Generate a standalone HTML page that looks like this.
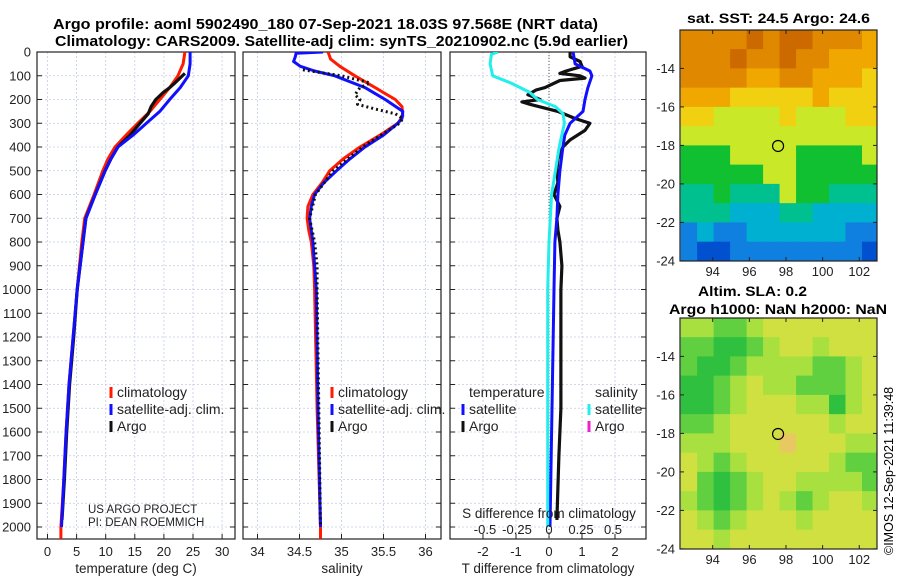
<!DOCTYPE html>
<html><head><meta charset="utf-8"><style>
body{margin:0;background:#fff}
svg{display:block;font-family:"Liberation Sans","DejaVu Sans",sans-serif}
</style></head><body>
<svg id="fig" width="900" height="580" viewBox="0 0 900 580" xmlns="http://www.w3.org/2000/svg">
<defs>
<clipPath id="c1"><rect x="37" y="52" width="198" height="487"/></clipPath>
<clipPath id="c2"><rect x="243" y="52" width="198" height="487"/></clipPath>
<clipPath id="c3"><rect x="450" y="52" width="196" height="487"/></clipPath>
<clipPath id="m1"><rect x="680" y="30" width="197" height="231"/></clipPath>
<clipPath id="m2"><rect x="680" y="318" width="197" height="231"/></clipPath>
</defs>
<text x="53" y="29" textLength="545" lengthAdjust="spacingAndGlyphs" font-size="14.5" font-weight="bold">Argo profile: aoml 5902490_180 07-Sep-2021 18.03S 97.568E (NRT data)</text>
<text x="55" y="46" textLength="573" lengthAdjust="spacingAndGlyphs" font-size="14.5" font-weight="bold">Climatology: CARS2009. Satellite-adj clim: synTS_20210902.nc (5.9d earlier)</text>
<text x="687" y="23" textLength="183" lengthAdjust="spacingAndGlyphs" font-size="14" font-weight="bold">sat. SST: 24.5 Argo: 24.6</text>
<text x="698" y="296" textLength="109" lengthAdjust="spacingAndGlyphs" font-size="14" font-weight="bold">Altim. SLA: 0.2</text>
<text x="669" y="314" textLength="218" lengthAdjust="spacingAndGlyphs" font-size="14" font-weight="bold">Argo h1000: NaN h2000: NaN</text>
<text transform="translate(893,555) rotate(-90)" font-size="12.5">©IMOS 12-Sep-2021 11:39:48</text>
<g id="g"></g>
</svg>
<script>
// ---- profile data ----
const depthTicks=[0,100,200,300,400,500,600,700,800,900,1000,1100,1200,1300,1400,1500,1600,1700,1800,1900,2000];
const tempTicks=[0,5,10,15,20,25,30];
const salTicks=[34,34.5,35,35.5,36];
const salTickLabels=["34","34.5","35","35.5","36"];
const tdiffTicks=[-2,-1,0,1,2];
const sdiffTicks=[-0.5,-0.25,0,0.25,0.5];
const sdiffTickLabels=["-0.5","-0.25","0","0.25","0.5"];

const climTDepth=[0,50,100,150,200,250,300,350,400,450,500,600,700,800,1000,1200,1400,1600,1800,2000,2050];
const climT=[23.6,23.3,22.4,21,19.3,17.6,15.5,13.5,11.6,10.4,9.5,8,6.4,5.9,5.1,4.4,3.7,3.2,2.8,2.3,2.3];
const satTDepth=[0,50,100,150,200,250,300,350,400,450,500,600,700,800,1000,1200,1400,1600,1800,2000];
const satT=[24.5,24.5,24.2,22.8,21,19.3,17,14.7,12.1,10.9,9.9,8.2,6.6,6.1,5.1,4.4,3.7,3.2,2.8,2.4];
const argoTDepth=[90,130,150,170,200,230,260,300,350,400,450,500,600,700,800,1000,1200,1400,1600,1800,1970];
const argoT=[23.6,21.9,21,19.9,18.6,17.8,17.3,15.9,14.2,12.1,10.9,9.9,8.2,6.6,6.1,5.1,4.5,3.8,3.3,2.9,2.5];

const climSDepth=[0,30,60,100,150,200,230,270,300,350,400,450,500,550,600,650,700,750,800,900,1000,1500,2000,2050];
const climS=[34.84,34.87,34.98,35.16,35.4,35.64,35.72,35.73,35.67,35.46,35.22,35.02,34.86,34.77,34.66,34.6,34.59,34.61,34.64,34.67,34.68,34.71,34.75,34.75];
const satSDepth=[0,5,20,40,60,80,100,150,200,250,280,300,350,400,450,500,550,600,650,700,800,900,1000,1500,2000];
const satS=[34.78,34.46,34.45,34.43,34.51,34.68,34.92,35.28,35.52,35.73,35.72,35.67,35.5,35.28,35.1,34.94,34.79,34.68,34.64,34.62,34.66,34.68,34.7,34.72,34.75];
const argoSDepth=[75,100,130,150,180,200,220,240,260,280,300,400,500,600,700,800,900,1000,1500,2000];
const argoS=[34.54,35.0,35.34,35.22,35.16,35.22,35.19,35.4,35.64,35.73,35.69,35.25,34.9,34.69,34.62,34.68,34.71,34.71,34.73,34.75];

const sDiffDepth=[0,10,50,100,130,170,200,230,260,300,350,400,500,600,700,800,1000,2000];
const sDiff=[-0.4,-0.45,-0.46,-0.44,-0.3,-0.15,-0.09,0.05,0.11,0.12,0.1,0.08,0.05,0.02,0.01,0,-0.01,-0.01];
const tDiffSatDepth=[0,50,80,100,150,200,250,300,350,400,500,600,700,800,1000,1500,2000];
const tDiffSat=[0.73,0.79,1.24,1.3,1.18,1.09,1.03,0.64,0.48,0.42,0.33,0.27,0.24,0.18,0.15,0.09,0.03];
const tDiffArgoDepth=[0,20,40,60,80,90,100,110,120,150,160,180,200,210,220,250,280,300,330,370,400,450,500,550,600,650,700,750,800,900,1000,1200,1500,1700,1970];
const tDiffArgo=[0.64,0.64,0.94,1.0,0.52,0.33,0.94,1.09,0.33,-0.12,-0.39,-0.64,-0.27,-0.82,-0.58,0.27,0.79,1.24,1.09,0.64,0.42,0.27,0.24,0.27,0.15,0.33,0.24,0.27,0.33,0.39,0.36,0.36,0.36,0.3,0.24];

// ---- map data ----
const sstGrid=[
[9,9,9,9,10,9,10,10,9,9,9,8],
[9,9,9,10,9,9,10,9,9,8,8,8],
[9,9,9,9,8,8,9,9,8,8,8,7],
[8,8,8,7,7,7,7,7,8,7,7,7],
[7,7,6,6,6,6,7,6,6,6,7,7],
[6,6,6,6,6,6,6,6,6,6,6,6],
[5,5,5,6,6,6,6,5,5,5,5,6],
[5,5,5,5,5,6,6,5,5,5,5,5],
[4,4,5,4,4,4,6,5,5,4,4,4],
[4,4,4,3,3,3,4,4,3,3,3,3],
[2,3,2,2,3,3,3,3,3,3,2,2],
[2,1,1,2,2,2,2,2,2,2,2,1]];
const slaGrid=[
[2,2,1,1,2,3,3,3,3,3,3,3],
[1,1,0,0,1,2,3,3,2,3,3,3],
[1,0,0,1,2,2,2,2,1,1,2,3],
[0,0,1,2,3,2,2,1,1,1,2,3],
[0,0,1,2,3,3,3,2,2,0,2,3],
[1,1,2,3,3,3,3,3,3,2,3,3],
[2,2,2,3,3,3,4,3,3,3,2,2],
[3,2,1,2,3,3,3,3,3,2,1,1],
[3,1,0,1,2,3,3,2,2,2,2,1],
[2,1,0,1,2,3,2,1,2,3,3,2],
[3,2,1,2,3,3,3,2,3,3,3,3],
[3,3,2,3,3,3,3,3,3,3,3,3]];
const sstColors=["#0020a0","#0050d0","#1080e0","#00b0d0","#00c090","#10c030","#c8e828","#f0d010","#f0a800","#e08800","#cc6a00"];
const slaColors=["#30c040","#60d040","#a8e040","#d0e040","#e8c860"];
const latTicks=[-14,-16,-18,-20,-22,-24];
const lonTicks=[94,96,98,100,102];
const floatLon=97.568, floatLat=-18.03;

const NS="http://www.w3.org/2000/svg";
const G=document.getElementById('g');
function el(tag,attrs,parent,text){const e=document.createElementNS(NS,tag);for(const k in attrs)e.setAttribute(k,attrs[k]);if(text!==undefined)e.textContent=text;(parent||G).appendChild(e);return e;}

const Y0=52,DS=0.2375,YB=539;
const yD=d=>Y0+d*DS;
const sdx=v=>549+v*128;
const panels=[
 {x0:37,x1:235,sx:v=>47.5+v*5.82,ticks:tempTicks,labels:tempTicks.map(String),clip:'c1',title:'temperature (deg C)',name:'temperature'},
 {x0:243,x1:441,sx:v=>257.5+(v-34)*84,ticks:salTicks,labels:salTickLabels,clip:'c2',title:'salinity',name:'salinity'},
 {x0:450,x1:646,sx:v=>549+v*33,ticks:tdiffTicks,labels:tdiffTicks.map(String),clip:'c3',title:'T difference from climatology',name:'difference'}
];
panels.forEach((p,i)=>{
 const grp=el('g',{});
 
 
 depthTicks.forEach(d=>{const y=yD(d);
  el('line',{x1:p.x0,x2:p.x1,y1:y,y2:y,stroke:'#c4cce4','stroke-width':0.8,'stroke-dasharray':'2,2'},grp);
  el('line',{x1:p.x0,x2:p.x0+5,y1:y,y2:y,stroke:'#222'},grp);
  el('line',{x1:p.x1-5,x2:p.x1,y1:y,y2:y,stroke:'#222'},grp);
  if(i==0){const t=el('text',{x:31,y:y+4.5,'text-anchor':'end','font-size':13,fill:'#222'},grp,String(d));}
 });
 p.ticks.forEach((v,k)=>{const x=p.sx(v);
  el('line',{x1:x,x2:x,y1:Y0,y2:YB,stroke:'#c4cce4','stroke-width':0.8,'stroke-dasharray':'2,2'},grp);
  el('line',{x1:x,x2:x,y1:YB-5,y2:YB,stroke:'#222'},grp);
  const t=el('text',{x:x,y:556,'text-anchor':'middle','font-size':13,fill:'#222'},grp,p.labels[k]);
  
 });
 const at=el('text',{x:(p.x0+p.x1)/2,y:573,'text-anchor':'middle','font-size':13.5,fill:'#222'},grp,p.title);
 
 el('rect',{x:p.x0,y:Y0,width:p.x1-p.x0,height:YB-Y0,fill:'none',stroke:'#222','stroke-width':1.2},grp);
});
function prof(pi,depths,vals,color,w,dash,name,fx){
 const p=panels[pi];const f=fx||p.sx;
 const pts=depths.map((d,k)=>f(vals[k]).toFixed(1)+','+yD(d).toFixed(1)).join(' ');
 const a={points:pts,fill:'none',stroke:color,'stroke-width':w,'stroke-linejoin':'round','clip-path':'url(#'+p.clip+')'};
 if(dash)a['stroke-dasharray']=dash;
 const l=el('polyline',a);
 
 
}
prof(0,climTDepth,climT,'#ff1a00',3,null,'temp-climatology-line');
prof(0,argoTDepth,argoT,'#111',3.2,null,'temp-argo-line');
prof(0,satTDepth,satT,'#1010ff',3,null,'temp-satellite-line');
prof(1,climSDepth,climS,'#ff1a00',3,null,'sal-climatology-line');
prof(1,satSDepth,satS,'#1010ff',3,null,'sal-satellite-line');
prof(1,argoSDepth,argoS,'#111',3,'2,3','sal-argo-line');
const zl=el('line',{x1:549,x2:549,y1:Y0,y2:YB,stroke:'#555','stroke-width':1,'stroke-dasharray':'1,2'});

prof(2,tDiffArgoDepth,tDiffArgo,'#111',3.2,null,'tdiff-argo-line');
prof(2,tDiffSatDepth,tDiffSat,'#1010ff',3,null,'tdiff-satellite-line');
prof(2,sDiffDepth,sDiff,'#22eeee',3,null,'sdiff-satellite-line',sdx);

const st=el('text',{x:549,y:518,'text-anchor':'middle','font-size':13.5,fill:'#222'},G,'S difference from climatology');

sdiffTicks.forEach((v,k)=>{const t=el('text',{x:sdx(v),y:534,'text-anchor':'middle','font-size':13,fill:'#222'},G,sdiffTickLabels[k]);
 });

function leg(x,y,color,label,name){
 const g=el('g',{});
 el('rect',{x:x-1.5,y:y-9,width:3,height:11,fill:color},g);
 el('text',{x:x+6,y:y+1,'font-size':14,fill:'#222'},g,label);
}
leg(111,396,'#ff1a00','climatology','legend-climatology');
leg(111,413,'#1010ff','satellite-adj. clim.','legend-satellite-adj');
leg(111,430,'#111','Argo','legend-argo');
leg(332,396,'#ff1a00','climatology','legend-sal-climatology');
leg(332,413,'#1010ff','satellite-adj. clim.','legend-sal-satellite-adj');
leg(332,430,'#111','Argo','legend-sal-argo');
const th=el('text',{x:469,y:397,'font-size':14,fill:'#222'},G,'temperature');
const sh=el('text',{x:595,y:397,'font-size':14,fill:'#222'},G,'salinity');
leg(463,413,'#1010ff','satellite','legend-tdiff-satellite');
leg(463,430,'#111','Argo','legend-tdiff-argo');
leg(589,413,'#22eeee','satellite','legend-sdiff-satellite');
leg(589,430,'#ee22cc','Argo','legend-sdiff-argo');
const c1=el('text',{x:88,y:513,'font-size':11.5,fill:'#222'},G,'US ARGO PROJECT');
const c2=el('text',{x:88,y:526,'font-size':11.5,fill:'#222'},G,'PI: DEAN ROEMMICH');

function map(top,grid,colors,clip,name){
 const X0=680,X1=877,lon=v=>712.7+(v-94)*18.32,lat=v=>top+38.4+(-14-v)*19.25;
 const g=el('g',{});
 const cg=el('g',{'clip-path':'url(#'+clip+')'},g);
 const lon0=92.25,dl=0.9,lat0=-12,dlat=1;
 grid.forEach((row,r)=>row.forEach((v,c)=>{
  const x=lon(lon0+c*dl),y=lat(lat0-r*dlat);
  const cell=el('rect',{x:x,y:y,width:lon(lon0+(c+1)*dl)-x+0.5,height:lat(lat0-(r+1)*dlat)-y+0.5,fill:colors[v]},cg);
  
  
 }));
 const H=231;
 latTicks.forEach(v=>{const y=lat(v);
  el('line',{x1:X0,x2:X0+4,y1:y,y2:y,stroke:'#222'},g);el('line',{x1:X1-4,x2:X1,y1:y,y2:y,stroke:'#222'},g);
  el('text',{x:675,y:y+4.5,'text-anchor':'end','font-size':13,fill:'#222'},g,String(v));});
 lonTicks.forEach(v=>{const x=lon(v);
  el('line',{x1:x,x2:x,y1:top+H-4,y2:top+H,stroke:'#222'},g);el('line',{x1:x,x2:x,y1:top,y2:top+4,stroke:'#222'},g);
  el('text',{x:x,y:top+H+15,'text-anchor':'middle','font-size':13,fill:'#222'},g,String(v));});
 el('rect',{x:X0,y:top,width:X1-X0,height:H,fill:'none',stroke:'#222','stroke-width':1.2},g);
 const m=el('circle',{cx:lon(floatLon),cy:lat(floatLat),r:5.5,fill:'none',stroke:'#000','stroke-width':1.2},g);
 
}
map(30,sstGrid,sstColors,'m1','sst-map');
map(318,slaGrid,slaColors,'m2','sla-map');
</script>
</body></html>
